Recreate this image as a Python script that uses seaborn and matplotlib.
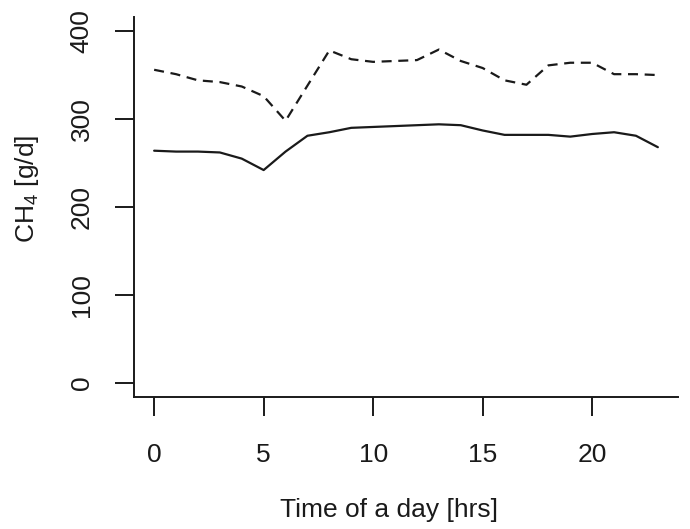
import matplotlib
matplotlib.use('Agg')
import matplotlib.pyplot as plt
import seaborn as sns

# hourly methane emission, two groups
hours = list(range(24))
ch4_solid = [264, 263, 263, 262, 255, 242, 263, 281, 285, 290, 291, 292,
             293, 294, 293, 287, 282, 282, 282, 280, 283, 285, 281, 268]
ch4_dashed = [356, 351, 344, 342, 337, 326, 298, 338, 378, 368, 365, 366,
              367, 379, 366, 358, 344, 339, 361, 364, 364, 351, 351, 350]

x_ticks = [0, 5, 10, 15, 20]
y_ticks = [0, 100, 200, 300, 400]

sns.set_style('ticks')
plt.rcParams['font.family'] = ['Liberation Sans', 'DejaVu Sans']
plt.rcParams['mathtext.fontset'] = 'custom'
plt.rcParams['mathtext.rm'] = 'Liberation Sans'

fig = plt.figure(figsize=(6.9, 5.29), dpi=100)
ax = fig.add_axes([134 / 690, 1 - 397 / 529, 544 / 690, 380 / 529])

sns.lineplot(x=hours, y=ch4_solid, ax=ax, color='#1a1a1a', linewidth=1.6)
sns.lineplot(x=hours, y=ch4_dashed, ax=ax, color='#1a1a1a', linewidth=1.6,
             linestyle=(0, (4.5, 3)))

ax.set_xlim(-0.92, 23.92)
ax.set_ylim(-16, 416)
ax.set_xticks(x_ticks)
ax.set_yticks(y_ticks)
ax.set_xticklabels([str(t) for t in x_ticks])
ax.set_yticklabels([str(t) for t in y_ticks])

for side in ['top', 'right']:
    ax.spines[side].set_visible(False)
for side in ['left', 'bottom']:
    ax.spines[side].set_linewidth(1.4)
    ax.spines[side].set_color('#1a1a1a')

ax.tick_params(axis='both', length=14, width=1.4, color='#1a1a1a',
               labelsize=19, labelcolor='#1a1a1a')
ax.tick_params(axis='x', pad=19)
ax.tick_params(axis='y', labelrotation=90, pad=15)
for lab in ax.get_yticklabels():
    lab.set_va('center')

ax.set_xlabel('')
ax.set_ylabel('')
fig.text(389 / 690, 1 - 510 / 529, 'Time of a day [hrs]', ha='center', va='center',
         fontsize=19, color='#1a1a1a')
fig.text(27 / 690, 1 - 189 / 529, r'CH$_4$ [g/d]', ha='center', va='center',
         rotation=90, fontsize=19, color='#1a1a1a')

fig.savefig('out.png', dpi=100)
